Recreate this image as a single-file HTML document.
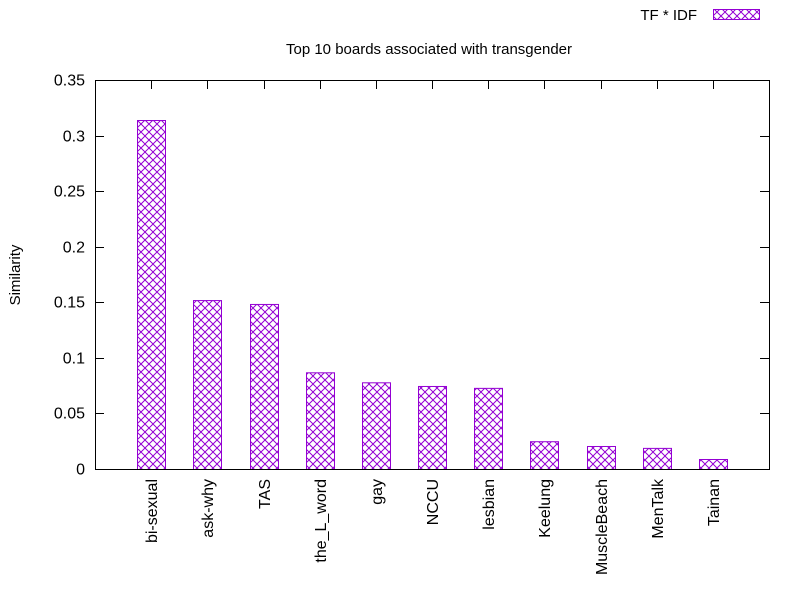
<!DOCTYPE html>
<html><head><meta charset="utf-8"><style>
body{margin:0;background:#fff}
svg{display:block;font-family:"Liberation Sans",sans-serif;font-size:16px}
</style></head><body>
<svg id="chart" width="800" height="600">
<defs>
<pattern id="hatch" patternUnits="userSpaceOnUse" width="8" height="8" x="137" y="0">
<path d="M0,0 L8,8 M8,0 L0,8" stroke="#9400d3" stroke-width="1" fill="none"/>
</pattern>
</defs>
<rect x="0" y="0" width="800" height="600" fill="#fff"/>
<text x="429" y="54" text-anchor="middle" fill="#000" style="font-size:15px">Top 10 boards associated with transgender</text>
<text x="697" y="20" text-anchor="end" fill="#000" style="font-size:15px">TF * IDF</text>
<rect x="713.5" y="9.5" width="46" height="10" fill="url(#hatch)" stroke="#9400d3"/>
<text transform="translate(20,275) rotate(-90)" text-anchor="middle" fill="#000" style="font-size:15px">Similarity</text>
<g id="yticks"></g>
<g id="bars"></g>
<g id="xticks"></g>
<rect x="95.5" y="80.5" width="674" height="389" fill="none" stroke="#000"/>
</svg>
<script>
const categories=["bi-sexual","ask-why","TAS","the_L_word","gay","NCCU","lesbian","Keelung","MuscleBeach","MenTalk","Tainan"];
const values=[0.314,0.152,0.1485,0.087,0.078,0.0747,0.073,0.025,0.0207,0.019,0.009];
const yTicks=[0,0.05,0.1,0.15,0.2,0.25,0.3,0.35];
const yTickLabels=["0","0.05","0.1","0.15","0.2","0.25","0.3","0.35"];
const NS="http://www.w3.org/2000/svg";
const L=95,R=769,T=80,B=469,yMax=0.35;
const y=v=>B-(v/yMax)*(B-T);
const step=(R-L)/(categories.length+1);
const x=i=>L+step*(i+1);
function mk(tag,attrs,parent){const e=document.createElementNS(NS,tag);for(const k in attrs)e.setAttribute(k,attrs[k]);parent.appendChild(e);return e;}
const yt=document.getElementById('yticks');
yTicks.forEach((v,i)=>{
  const yy=Math.round(y(v))+0.5;
  const l1=mk('line',{x1:L,x2:L+9,y1:yy,y2:yy,stroke:'#000'},yt);
  
  
  const l2=mk('line',{x1:R-9,x2:R,y1:yy,y2:yy,stroke:'#000'},yt);
  
  
  const t=mk('text',{x:L-10,y:yy+5,'text-anchor':'end',fill:'#000'},yt);
  t.textContent=yTickLabels[i];
  
  
});
const bg=document.getElementById('bars'),xt=document.getElementById('xticks');
categories.forEach((c,i)=>{
  const cx=Math.round(x(i));
  const top=y(values[i]);
  const r=mk('rect',{x:cx-14+0.5,y:top+0.5,width:28,height:B-top,fill:'url(#hatch)',stroke:'#9400d3'},bg);
  
  
  const tk=mk('line',{x1:cx+0.5,x2:cx+0.5,y1:T,y2:T+9,stroke:'#000'},xt);
  
  
  const t=mk('text',{transform:`translate(${cx+6},479) rotate(-90)`,'text-anchor':'end',fill:'#000'},xt);
  t.textContent=c;
  
  
});
</script>
</body></html>
